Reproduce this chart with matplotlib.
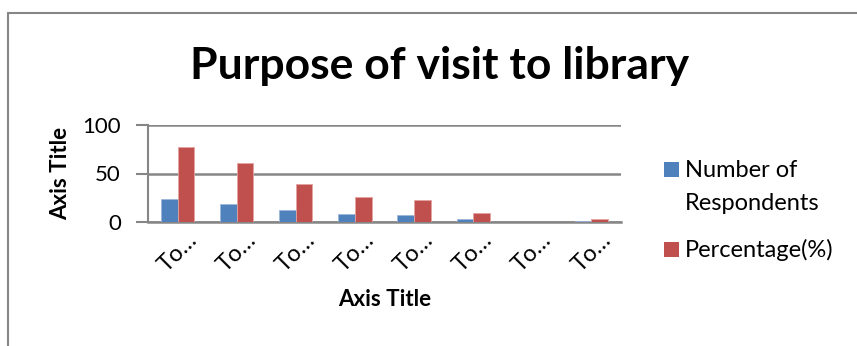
import matplotlib
matplotlib.use("Agg")
import matplotlib.pyplot as plt
import matplotlib.patches as mpatches
import numpy as np

# Purpose of visit to library - survey responses (N = 31)
categories = ["To…", "To…", "To…", "To…", "To…", "To…", "To…", "To…"]
respondents = [24, 19, 12, 8, 7, 3, 0, 1]
percentage = [77.4, 61.3, 38.7, 25.8, 22.6, 9.7, 0.0, 3.2]
series_names = ["Number of\nRespondents", "Percentage(%)"]

blue = "#4F81BD"
red = "#C0504D"
grey = "#868686"

plt.rcParams["font.family"] = ["Lato", "DejaVu Sans"]

W, H = 857, 346
fig = plt.figure(figsize=(W / 100, H / 100), dpi=100)


def fx(px):
    return px / W


def fy(py):
    return 1 - py / H


# outer chart frame
fig.add_artist(mpatches.Rectangle((fx(8), -0.05), 1.0, fy(13) + 0.05,
                                  transform=fig.transFigure, fill=False,
                                  edgecolor=grey, linewidth=1.5))

ax = fig.add_axes([fx(148), fy(222), 473 / W, 97 / H])

x = np.arange(len(categories))
w = 0.282
ax.bar(x - w / 2, respondents, w, color=blue, edgecolor="#9DB7DA", linewidth=0.6,
       zorder=3)
ax.bar(x + w / 2, percentage, w, color=red, edgecolor="#E3A3A1", linewidth=0.6,
       zorder=3)

ax.set_xlim(-0.5, len(categories) - 0.5)
ax.set_ylim(0, 100)
ax.set_yticks([0, 50, 100])
ax.yaxis.grid(True, color=grey, linewidth=1.8, zorder=0)
ax.set_axisbelow(True)

for side in ["top", "right"]:
    ax.spines[side].set_visible(False)
ax.spines["left"].set_color(grey)
ax.spines["left"].set_linewidth(1.5)
ax.spines["bottom"].set_color(grey)
ax.spines["bottom"].set_linewidth(1.8)

ax.tick_params(axis="y", length=9, width=1.5, color=grey, labelsize=16, pad=10.5)
ax.tick_params(axis="x", length=0, labelsize=17)
ax.set_xticks(x)
ax.set_xticklabels(categories, rotation=45, ha="center", va="center",
                   rotation_mode="anchor")
for lbl in ax.get_xticklabels():
    lbl.set_y(-0.26)

ax.set_ylabel("Axis Title", fontsize=16, fontweight="bold", labelpad=8)
ax.set_xlabel("Axis Title", fontsize=16, fontweight="bold", labelpad=10)

fig.text(fx(440), fy(66), "Purpose of visit to library",
         fontsize=32, fontweight="bold", ha="center", va="center")

# legend, Excel style: marker sits level with the first line of its label
leg_rows = [(blue, 177), (red, 257)]
for name, (col, base) in zip(series_names, leg_rows):
    fig.add_artist(mpatches.Rectangle((fx(664), fy(base)), 15 / W, 15 / H,
                                      transform=fig.transFigure,
                                      facecolor=col, edgecolor="none"))
    for i, line in enumerate(name.split("\n")):
        fig.text(fx(685), fy(base + 33 * i), line, fontsize=17, ha="left",
                 va="baseline")

fig.savefig("out.png", dpi=100)
